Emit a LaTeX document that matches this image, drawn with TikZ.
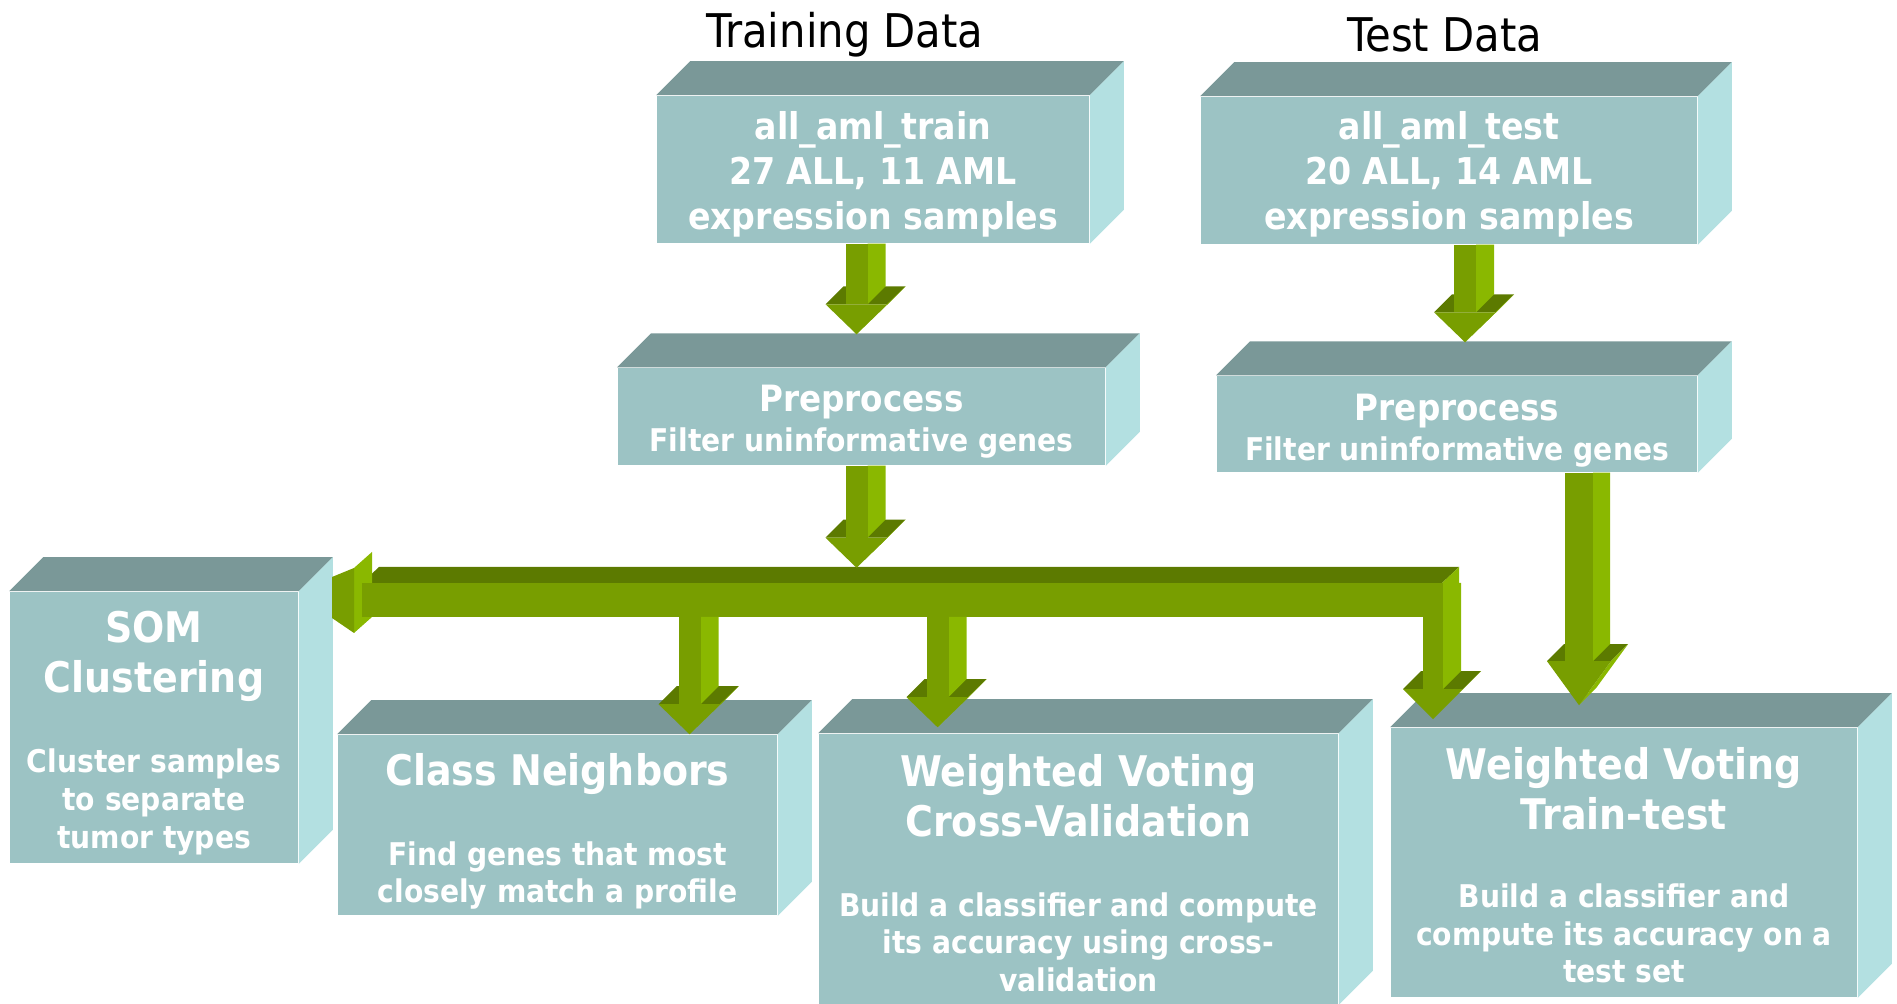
\documentclass[tikz,border=0pt]{standalone}
\usepackage{fontspec}
\setmainfont{DejaVu Sans Condensed}
\usetikzlibrary{calc}

\definecolor{boxfront}{HTML}{9CC3C4}
\definecolor{boxtop}{HTML}{7A9898}
\definecolor{boxside}{HTML}{B3E0E1}
\definecolor{grfront}{HTML}{789E00}
\definecolor{grside}{HTML}{8AB800}
\definecolor{grtop}{HTML}{5C7A00}

\tikzset{
  box/.style={fill=boxfront, inner sep=0pt},
  title/.style={font=\fontsize{13.2}{15}\selectfont},
  main/.style={text=white, align=center, font=\bfseries\fontsize{10.5}{12.8}\selectfont},
  prep/.style={text=white, align=center, font=\bfseries\fontsize{10.3}{12}\selectfont},
  hd/.style={text=white, align=center, font=\bfseries\fontsize{12}{14.2}\selectfont},
  bd/.style={text=white, align=center, font=\bfseries\fontsize{8.9}{10.7}\selectfont},
}

\newcommand{\boxfaces}[1]{%
  \fill[boxtop] (#1.north west) -- ++(34,-34) -- ($(#1.north east)+(34,-34)$) -- (#1.north east) -- cycle;
  \fill[boxside] (#1.north east) -- ++(34,-34) -- ($(#1.south east)+(34,-34)$) -- (#1.south east) -- cycle;
}

\newcommand{\arrhead}{30}
\newcommand{\arrwing}{20}
\newcommand{\arrdepth}{18}
\newcommand{\varrow}[3][22]{%
  \coordinate (T) at (#3 |- #2);
  \fill[grtop] ($(#3)+(-#1/2-\arrwing,-\arrhead)$) -- ($(#3)+(#1/2+\arrwing,-\arrhead)$)
    -- ++(\arrdepth,-\arrdepth) -- ($(#3)+(-#1/2-\arrwing+\arrdepth,-\arrhead-\arrdepth)$) -- cycle;
  \fill[grside] ($(#3)+(#1/2+\arrwing,-\arrhead)$) -- ++(\arrdepth,-\arrdepth) -- ($(#3)+(\arrdepth,-\arrdepth)$) -- (#3) -- cycle;
  \fill[grfront] ($(#3)+(-#1/2-\arrwing,-\arrhead)$) -- ($(#3)+(#1/2+\arrwing,-\arrhead)$) -- (#3) -- cycle;
  \fill[grside] ($(T)+(#1/2,0)$) -- ++(\arrdepth,0) -- ($(#3)+(#1/2+\arrdepth,-\arrhead-\arrdepth)$) -- ($(#3)+(#1/2,-\arrhead)$) -- cycle;
  \fill[grfront] ($(T)+(-#1/2,0)$) rectangle ($(#3)+(#1/2,-\arrhead)$);
}

\begin{document}
\begin{tikzpicture}[x=0.01cm, y=-0.01cm]
  \useasboundingbox (0,0) rectangle (1897,1004);

  \node[title] (trtitle) at (845,35) {Training Data};
  \node[title] (tetitle) at (1445,35) {Test Data};

  \node[box, minimum width=4.32cm, minimum height=1.47cm] (train) at (873,169.5) {};
  \node[box, minimum width=4.96cm, minimum height=1.47cm] (test) at (1449,170.5) {};
  \node[box, minimum width=4.87cm, minimum height=0.97cm] (prept) at (861.5,416.5) {};
  \node[box, minimum width=4.80cm, minimum height=0.96cm] (preptest) at (1457,424) {};
  \node[box, minimum width=2.88cm, minimum height=2.71cm] (som) at (154,727.5) {};
  \node[box, minimum width=4.39cm, minimum height=1.80cm] (cn) at (557.5,825) {};
  \node[box, minimum width=5.19cm, minimum height=2.70cm] (wvcv) at (1078.5,869) {};
  \node[box, minimum width=4.66cm, minimum height=2.69cm] (wvtt) at (1624,862.5) {};
  \foreach \b in {train,test,prept,preptest,som,cn,wvcv,wvtt} {\boxfaces{\b}}

  \coordinate (barnw) at (362,583);
  \coordinate (barse) at (1442,617);
  \fill[grtop] (barnw) -- ++(17,-16) -- ($(barse |- barnw)+(17,-16)$) -- (barse |- barnw) -- cycle;
  \fill[grside] (barse |- barnw) -- ++(17,-16) -- ($(barse)+(17,0)$) -- (barse) -- cycle;
  \fill[grside] (354,568) -- (372,552) -- (372,617) -- (354,633) -- cycle;
  \fill[grfront] (332,577) -- (354,568) -- (354,633) -- (332,618) -- cycle;
  \fill[grfront] (barnw) rectangle (barse);

  \coordinate (tip1) at ($(prept.north)+(-5,-33)$);
  \coordinate (tip2) at ($(prept.south)+(-5,102)$);
  \coordinate (tip3) at ($(preptest.north)+(8,-33)$);
  \coordinate (tip4) at ($(wvtt.north)+(-45,-22)$);
  \coordinate (tip5) at ($(cn.north)+(132,0)$);
  \coordinate (tip6) at ($(wvcv.north)+(-141,-6)$);
  \coordinate (tip7) at ($(wvtt.north)+(-191,-8)$);

  \varrow{train.south}{tip1}
  \varrow{prept.south}{tip2}
  \varrow{test.south}{tip3}
  \begin{scope}
    \renewcommand{\arrhead}{44}\renewcommand{\arrwing}{18}\renewcommand{\arrdepth}{17}
    \varrow[28]{preptest.south}{tip4}
  \end{scope}
  \varrow{barse}{tip5}
  \varrow{barse}{tip6}
  \varrow[20]{barnw}{tip7}

  \node[main] (trtext) at ($(train.center)+(0,5)$) {all\_aml\_train\\27 ALL, 11 AML\\expression samples};
  \node[main] (tetext) at ($(test.center)+(0,4)$) {all\_aml\_test\\20 ALL, 14 AML\\expression samples};
  \node[prep] (preth) at ($(prept.center)+(0,-14)$) {Preprocess};
  \node[bd] (pretb) at ($(prept.center)+(0,26)$) {Filter uninformative genes};
  \node[prep] (preeh) at ($(preptest.center)+(0,-12.5)$) {Preprocess};
  \node[bd] (preeb) at ($(preptest.center)+(0,27.5)$) {Filter uninformative genes};
  \node[hd] (somh) at ($(som.center)+(0,-71)$) {SOM\\Clustering};
  \node[bd] (somb) at ($(som.center)+(0,74.5)$) {Cluster samples\\to separate\\tumor types};
  \node[hd] (cnh) at ($(cn.center)+(0,-50.5)$) {Class Neighbors};
  \node[bd] (cnb) at ($(cn.center)+(0,50.5)$) {Find genes that most\\closely match a profile};
  \node[hd] (wvcvh) at ($(wvcv.center)+(0,-73)$) {Weighted Voting\\Cross-Validation};
  \node[bd] (wvcvb) at ($(wvcv.center)+(0,73)$) {Build a classifier and compute\\its accuracy using cross-\\validation};
  \node[hd] (wvtth) at ($(wvtt.center)+(0,-74)$) {Weighted Voting\\Train-test};
  \node[bd] (wvttb) at ($(wvtt.center)+(0,71)$) {Build a classifier and\\compute its accuracy on a\\test set};
\end{tikzpicture}
\end{document}
